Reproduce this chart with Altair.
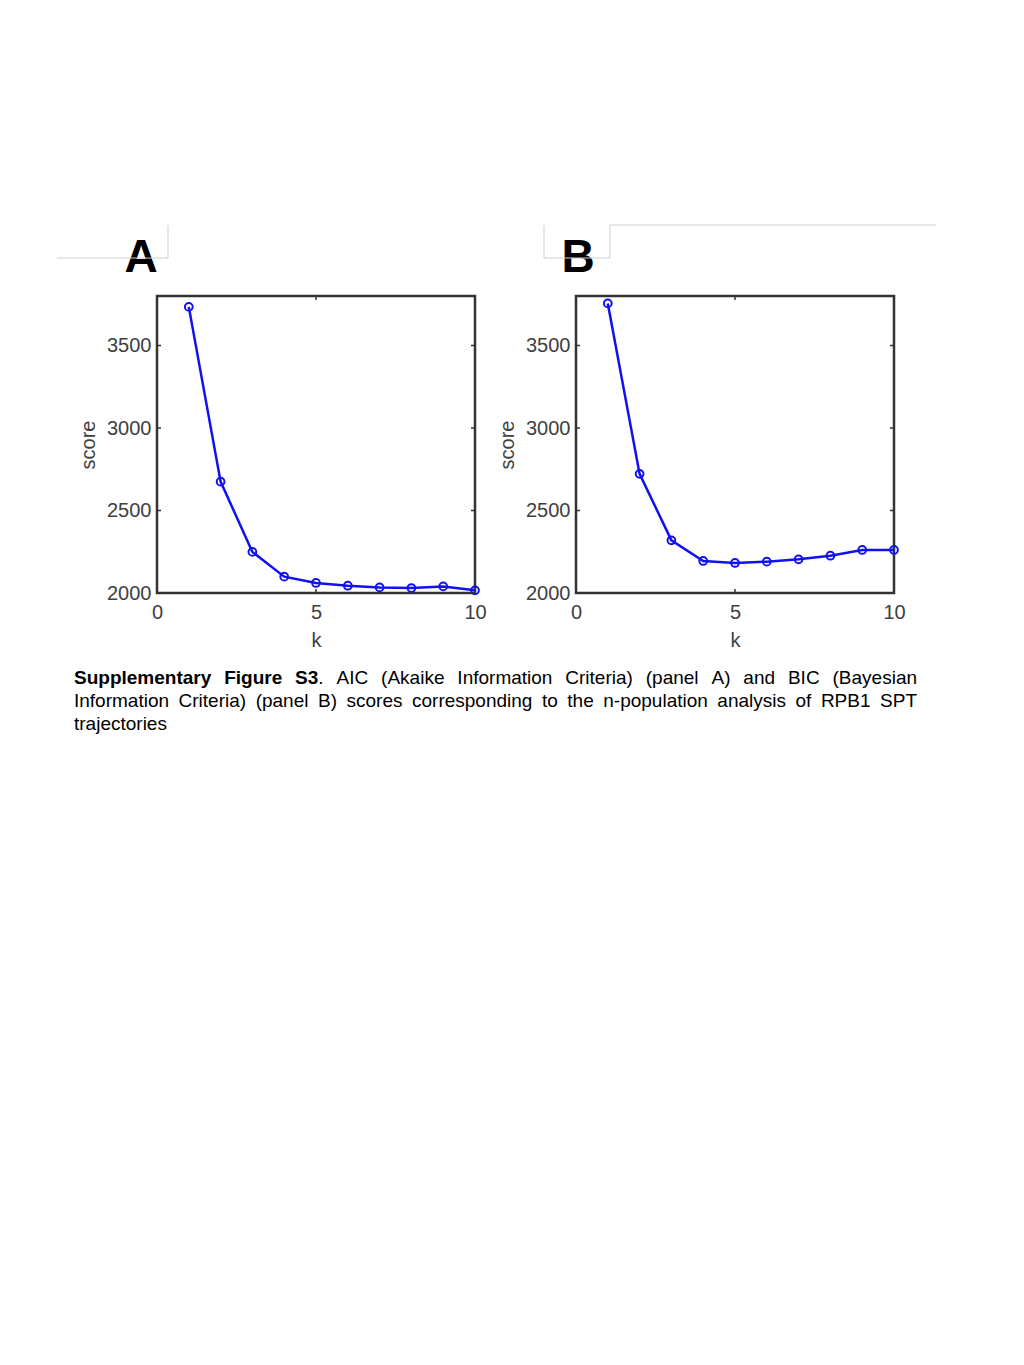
import altair as alt
import pandas as pd

# ---------------- data ----------------
k_values = [1, 2, 3, 4, 5, 6, 7, 8, 9, 10]
aic_scores = [3734, 2675, 2249, 2099, 2061, 2044, 2034, 2030, 2040, 2016]
bic_scores = [3755, 2722, 2319, 2194, 2182, 2190, 2204, 2226, 2261, 2261]
x_ticks = [0, 5, 10]
y_ticks = [2000, 2500, 3000, 3500]
panel_letters = ["A", "B"]

caption_lines = [
    [("Supplementary", True, True), ("Figure", True, True), ("S3", True, True), (".", False, False),
     ("AIC", False, True), ("(Akaike", False, True), ("Information", False, True), ("Criteria)", False, True),
     ("(panel", False, True), ("A)", False, True), ("and", False, True), ("BIC", False, True), ("(Bayesian", False, True)],
    [("Information", False, True), ("Criteria)", False, True), ("(panel", False, True), ("B)", False, True),
     ("scores", False, True), ("corresponding", False, True), ("to", False, True), ("the", False, True),
     ("n-population", False, True), ("analysis", False, True), ("of", False, True), ("RPB1", False, True), ("SPT", False, True)],
    [("trajectories", False, True)],
]
justify_line = [True, True, False]

# ---------------- styles ----------------
BLUE = "#1010f0"
FRAME = "#333333"
FONT = "Liberation Sans"
W, H = 318, 297
CAP_FS = 19
CAP_WIDTH = 843
CAP_X0 = -83

# Arial / Liberation Sans advance widths (1/1000 em)
REG = {' ': 278, '(': 333, ')': 333, '.': 278, '-': 333}
for d in "0123456789":
    REG[d] = 556
REG.update({'A': 667, 'B': 667, 'C': 722, 'D': 722, 'E': 667, 'F': 611, 'G': 778, 'H': 722, 'I': 278,
            'J': 500, 'K': 667, 'L': 556, 'M': 833, 'N': 722, 'O': 778, 'P': 667, 'Q': 778, 'R': 722,
            'S': 667, 'T': 611, 'U': 722, 'V': 667, 'W': 944, 'X': 667, 'Y': 667, 'Z': 611,
            'a': 556, 'b': 556, 'c': 500, 'd': 556, 'e': 556, 'f': 278, 'g': 556, 'h': 556, 'i': 222,
            'j': 222, 'k': 500, 'l': 222, 'm': 833, 'n': 556, 'o': 556, 'p': 556, 'q': 556, 'r': 333,
            's': 500, 't': 278, 'u': 556, 'v': 500, 'w': 722, 'x': 500, 'y': 500, 'z': 500})
BOLD = {'S': 667, 'u': 611, 'p': 611, 'l': 278, 'e': 556, 'm': 889, 'n': 611, 't': 333, 'a': 556,
        'r': 389, 'y': 556, 'F': 611, 'i': 278, 'g': 611, '3': 556, ' ': 278}


def text_width(s, bold):
    tbl = BOLD if bold else REG
    return sum(tbl.get(c, 556) for c in s) * CAP_FS / 1000.0


def panel(scores, letter, letter_dx, decos):
    df = pd.DataFrame({"k": k_values, "score": scores})
    xs = alt.Scale(domain=[0, 10], nice=False, zero=False)
    ys = alt.Scale(domain=[2000, 3800], nice=False, zero=False)
    xax = alt.Axis(values=x_ticks, title="k", format="d", labelFlush=False)
    yax = alt.Axis(values=y_ticks, title="score", format="d")
    x = alt.X("k:Q", scale=xs, axis=xax)
    y = alt.Y("score:Q", scale=ys, axis=yax)
    line = alt.Chart(df).mark_line(color=BLUE, strokeWidth=2.5).encode(x=x, y=y)
    pts = alt.Chart(df).mark_point(shape="circle", filled=False, color=BLUE, size=60,
                                   strokeWidth=2, opacity=1).encode(x=x, y=y)
    ydf = pd.DataFrame({"t": y_ticks})
    xdf = pd.DataFrame({"t": x_ticks})
    yt = alt.Y("t:Q", scale=ys, axis=yax)
    xt = alt.X("t:Q", scale=xs, axis=xax)
    tick_l = alt.Chart(ydf).mark_rule(color=FRAME, strokeWidth=1.5).encode(y=yt, x=alt.value(0), x2=alt.value(4))
    tick_r = alt.Chart(ydf).mark_rule(color=FRAME, strokeWidth=1.5).encode(y=yt, x=alt.value(W - 4), x2=alt.value(W))
    tick_b = alt.Chart(xdf).mark_rule(color=FRAME, strokeWidth=1.5).encode(x=xt, y=alt.value(H - 4), y2=alt.value(H))
    tick_t = alt.Chart(xdf).mark_rule(color=FRAME, strokeWidth=1.5).encode(x=xt, y=alt.value(0), y2=alt.value(4))
    lab = alt.Chart(pd.DataFrame({"l": [letter]})).mark_text(
        font=FONT, fontSize=46, fontWeight="bold", align="center", baseline="alphabetic", color="#000000"
    ).encode(text="l:N", x=alt.value(letter_dx), y=alt.value(-24))
    layers = [line, pts, tick_l, tick_r, tick_b, tick_t, lab]
    one = pd.DataFrame({"d": [0]})
    for (x1, x2, y1, y2) in decos:
        if y1 == y2:
            layers.append(alt.Chart(one).mark_rule(color="#cfcfcf", strokeWidth=1).encode(
                x=alt.value(x1), x2=alt.value(x2), y=alt.value(y1)))
        else:
            layers.append(alt.Chart(one).mark_rule(color="#cfcfcf", strokeWidth=1).encode(
                x=alt.value(x1), y=alt.value(y1), y2=alt.value(y2)))
    return alt.layer(*layers).properties(width=W, height=H)


panelA = panel(aic_scores, panel_letters[0], -16,
               [(-100, 11, -38, -38), (11, 11, -71, -38)])
panelB = panel(bic_scores, panel_letters[1], 2,
               [(-32, -32, -71, -38), (-32, 34, -38, -38), (34, 34, -71, -38), (34, 360, -71, -71)])

# ---------------- caption (justified words) ----------------
rows = []
for li, (tokens, just) in enumerate(zip(caption_lines, justify_line)):
    widths = [text_width(t, b) for t, b, _ in tokens]
    n_sp = sum(1 for i, tok in enumerate(tokens) if i > 0 and tok[2])
    if just and n_sp:
        gap = (CAP_WIDTH - sum(widths)) / n_sp
    else:
        gap = REG[' '] * CAP_FS / 1000.0
    xpos = 0.0
    for i, ((t, b, sp), w) in enumerate(zip(tokens, widths)):
        if i > 0 and sp:
            xpos += gap
        rows.append({"word": t, "bold": b, "px": CAP_X0 + xpos, "py": 17 + 23 * li})
        xpos += w
cap_df = pd.DataFrame(rows)
cap_base = alt.Chart(cap_df).encode(
    x=alt.X("px:Q", scale=None, axis=None),
    y=alt.Y("py:Q", scale=None, axis=None),
    text="word:N",
)
cap_bold = cap_base.transform_filter("datum.bold").mark_text(
    font=FONT, fontSize=CAP_FS, fontWeight="bold", align="left", baseline="alphabetic", color="#000000")
cap_reg = cap_base.transform_filter("!datum.bold").mark_text(
    font=FONT, fontSize=CAP_FS, fontWeight="normal", align="left", baseline="alphabetic", color="#000000")
caption = alt.layer(cap_bold, cap_reg).properties(
    width=700, height=66, view=alt.ViewBackground(stroke="transparent"))

chart = alt.vconcat(
    alt.hconcat(panelA, panelB, spacing=8),
    caption,
    spacing=13,
).properties(
    padding={"left": 47, "top": 215, "right": 0, "bottom": 0},
    background="white",
).configure_view(
    stroke=FRAME, strokeWidth=2.5
).configure_axis(
    labelFont=FONT, titleFont=FONT, labelFontSize=20, titleFontSize=20,
    labelColor="#404040", titleColor="#404040", titleFontWeight="normal",
    domain=False, ticks=False, grid=False,
).configure_axisY(
    labelPadding=6, titlePadding=8
).configure_axisX(
    labelPadding=9, titlePadding=8
)

chart.save("out.html", embed_options={"renderer": "svg", "actions": False})
